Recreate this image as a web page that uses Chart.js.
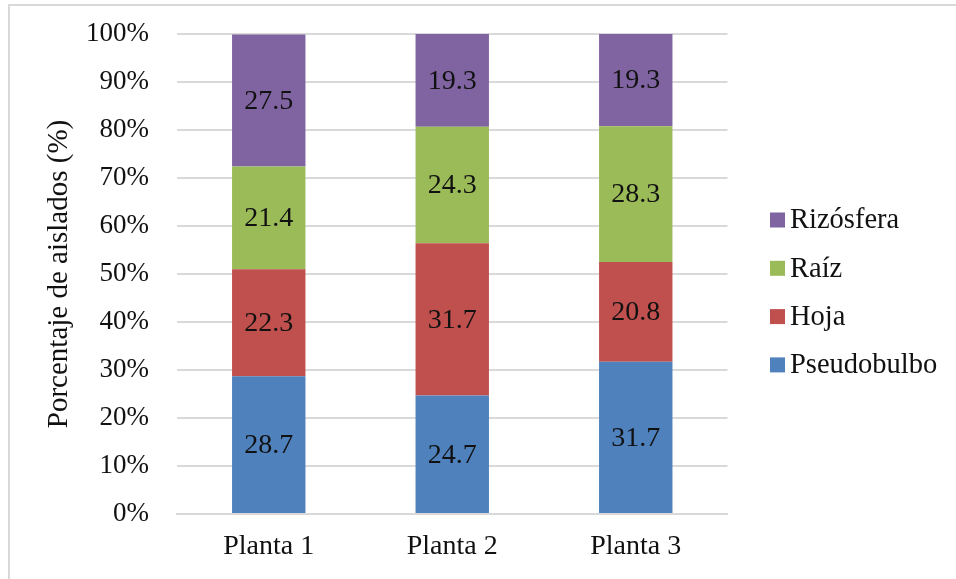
<!DOCTYPE html>
<html>
<head>
<meta charset="utf-8">
<script src="https://cdn.jsdelivr.net/npm/chart.js@4/dist/chart.umd.min.js"></script>
<style>
  html, body { margin: 0; padding: 0; background: #ffffff; }
  #wrap {
    position: relative; width: 956px; height: 579px; box-sizing: border-box;
  }
  #frame {
    position: absolute; left: 8px; top: 4px; right: -2px; bottom: -2px;
    border-left: 2px solid #d9d9d9; border-top: 2px solid #d9d9d9;
  }
  canvas { position: absolute; left: 0; top: 0; }
</style>
</head>
<body>
<div id="wrap">
  <div id="frame"></div>
  <canvas id="c" width="956" height="579"></canvas>
</div>
<script>
const categories = ["Planta 1", "Planta 2", "Planta 3"];
const pseudobulbo = [28.7, 24.7, 31.7];
const hoja = [22.3, 31.7, 20.8];
const raiz = [21.4, 24.3, 28.3];
const rizosfera = [27.5, 19.3, 19.3];
const seriesNames = ["Pseudobulbo", "Hoja", "Raíz", "Rizósfera"];
const seriesColors = ["#4f81bd", "#c0504d", "#9bbb59", "#8064a2"];
const yTicks = [0, 10, 20, 30, 40, 50, 60, 70, 80, 90, 100];

const FONT = "'Liberation Serif', 'Times New Roman', serif";
const FS = 27;

// Writes each segment's value in its middle
const segmentLabels = {
  id: 'segmentLabels',
  afterDatasetsDraw(chart) {
    const ctx = chart.ctx;
    ctx.save();
    ctx.font = "28px " + FONT;
    ctx.fillStyle = "#111111";
    ctx.textAlign = "center";
    ctx.textBaseline = "middle";
    chart.data.datasets.forEach((ds, i) => {
      chart.getDatasetMeta(i).data.forEach((bar, j) => {
        const mid = (bar.y + bar.base) / 2;
        ctx.fillText(ds.data[j].toFixed(1), bar.x, mid + 1);
      });
    });
    ctx.restore();
  }
};

// Legend on the right, top series first
const sideLegend = {
  id: 'sideLegend',
  afterDraw(chart) {
    const ctx = chart.ctx;
    const ds = chart.data.datasets.slice().reverse();
    ctx.save();
    ctx.font = "28.5px " + FONT;
    ctx.textBaseline = "middle";
    ctx.textAlign = "left";
    ds.forEach((d, k) => {
      const cy = 220 + k * 48.3;
      ctx.fillStyle = d.backgroundColor;
      ctx.fillRect(770, cy - 7.5, 15, 15);
      ctx.fillStyle = "#111111";
      ctx.fillText(d.label, 790, cy + 1);
    });
    ctx.restore();
  }
};

const seriesData = [pseudobulbo, hoja, raiz, rizosfera];

new Chart(document.getElementById('c'), {
  type: 'bar',
  data: {
    labels: categories,
    datasets: seriesNames.map((name, i) => ({
      label: name,
      data: seriesData[i],
      backgroundColor: seriesColors[i],
      borderWidth: 0,
      barPercentage: 0.4,
      categoryPercentage: 1.0
    }))
  },
  options: {
    responsive: false,
    animation: false,
    devicePixelRatio: 1,
    layout: { padding: { left: 10, top: 34, right: 228.5, bottom: 0 } },
    plugins: {
      legend: { display: false },
      tooltip: { enabled: false }
    },
    scales: {
      x: {
        stacked: true,
        grid: { display: false, drawTicks: false },
        border: { display: true, color: "#d9d9d9", width: 2 },
        ticks: { color: "#111111", font: { family: FONT, size: 28 }, padding: 16 },
        afterFit(scale) {
          scale.height = 65;
          scale.paddingLeft = 0;
          scale.paddingRight = 0;
        }
      },
      y: {
        stacked: true,
        min: 0,
        max: 100,
        afterBuildTicks(scale) { scale.ticks = yTicks.map(v => ({ value: v })); },
        grid: { color: "#d9d9d9", lineWidth: 2, drawTicks: false },
        border: { display: false },
        ticks: {
          color: "#111111",
          font: { family: FONT, size: FS },
          padding: 28,
          callback: v => v + "%"
        },
        title: {
          display: true,
          text: "Porcentaje de aislados (%)",
          color: "#111111",
          font: { family: FONT, size: 29 },
          padding: { top: 32, bottom: 0 }
        },
        afterFit(scale) {
          scale.width = 167;
          scale.paddingTop = 0;
          scale.paddingBottom = 0;
        }
      }
    }
  },
  plugins: [segmentLabels, sideLegend]
});
</script>
</body>
</html>
